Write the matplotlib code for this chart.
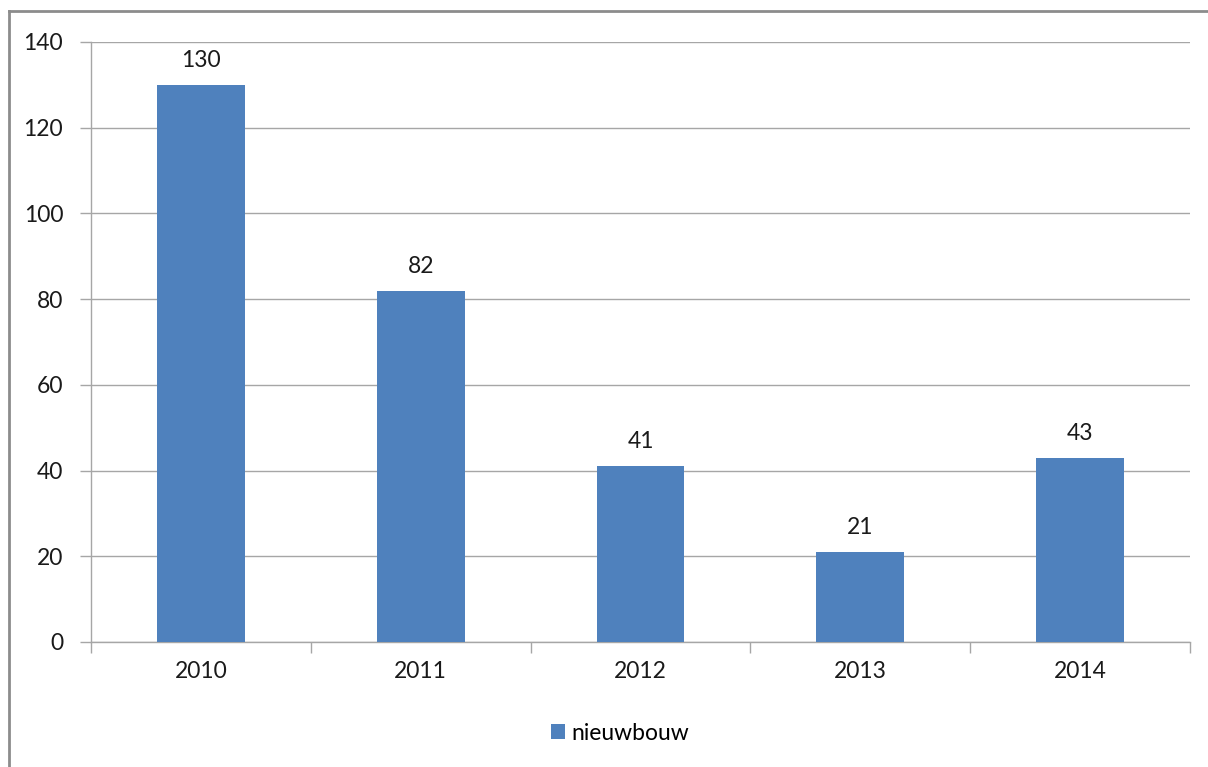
import matplotlib.pyplot as plt
from matplotlib.lines import Line2D
import numpy as np

years = ['2010', '2011', '2012', '2013', '2014']
nieuwbouw = [130, 82, 41, 21, 43]
yticks = [0, 20, 40, 60, 80, 100, 120, 140]

plt.rcParams['font.family'] = ['Lato', 'DejaVu Sans']
fs = 16.5

fig = plt.figure(figsize=(12.08, 7.67), dpi=100)
ax = fig.add_axes([91/1208, 1 - 642/767, (1190 - 91)/1208, 600/767])

x = np.arange(len(years))
bars = ax.bar(x, nieuwbouw, width=0.4, color='#4F81BD', label='nieuwbouw', zorder=3)
for xi, v in zip(x, nieuwbouw):
    ax.annotate(str(v), (xi, v), xytext=(0, 10), textcoords='offset points',
                ha='center', va='bottom', fontsize=fs, color='#1a1a1a')

ax.set_xlim(-0.5, len(years) - 0.5)
ax.set_ylim(0, 140)
ax.set_yticks(yticks)
ax.yaxis.grid(True, color='#a6a6a6', linewidth=1.0, zorder=0)
ax.set_axisbelow(True)

# category ticks at boundaries, labels centered
ax.set_xticks(np.arange(-0.5, len(years), 1.0))
ax.set_xticklabels([])
ax.set_xticks(x, minor=True)
ax.set_xticklabels(years, minor=True)
ax.tick_params(axis='x', which='major', length=8, color='#a6a6a6', width=1)
ax.tick_params(axis='x', which='minor', length=0, pad=14, labelsize=fs, labelcolor='#1a1a1a')
ax.tick_params(axis='y', length=8, color='#a6a6a6', width=1, labelsize=fs, pad=12, labelcolor='#1a1a1a')

for s in ['top', 'right']:
    ax.spines[s].set_visible(False)
for s in ['left', 'bottom']:
    ax.spines[s].set_color('#a6a6a6')
    ax.spines[s].set_linewidth(1)

fig.legend(handles=[bars], loc='center', bbox_to_anchor=(620/1208, 1 - 733/767),
           frameon=False, fontsize=fs, handlelength=0.6, handleheight=0.6,
           handletextpad=0.3)

# outer chart border (left and top edges visible)
fig.add_artist(Line2D([9/1208, 9/1208], [0, 1 - 11/767], color='#8c8c8c', linewidth=2))
fig.add_artist(Line2D([9/1208, 1], [1 - 11/767, 1 - 11/767], color='#8c8c8c', linewidth=2))

plt.savefig('out.png')
